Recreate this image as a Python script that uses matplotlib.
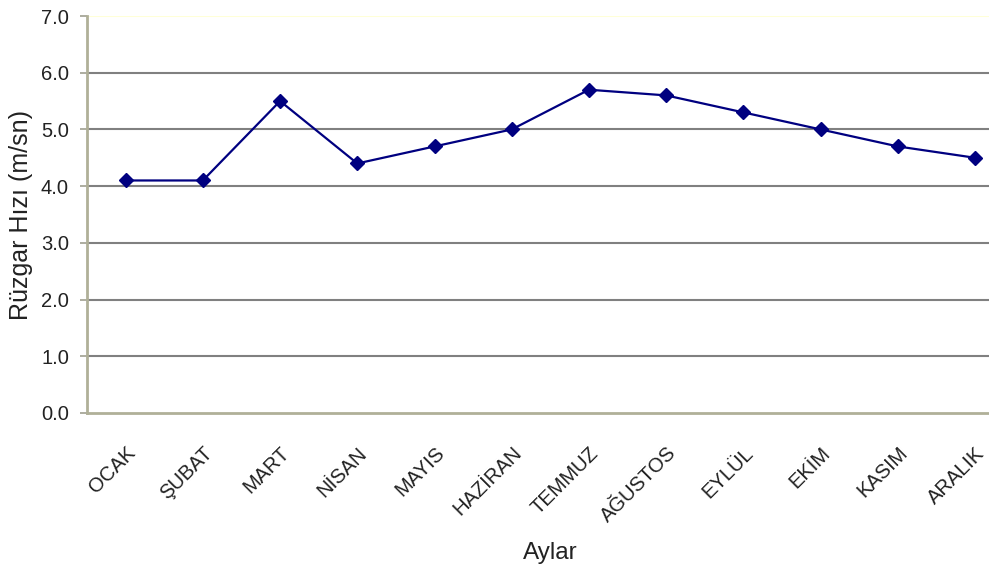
import matplotlib
matplotlib.use("Agg")
import matplotlib.pyplot as plt

months = ["OCAK", "ŞUBAT", "MART", "NİSAN", "MAYIS", "HAZİRAN", "TEMMUZ",
          "AĞUSTOS", "EYLÜL", "EKİM", "KASIM", "ARALIK"]
speeds = [4.1, 4.1, 5.5, 4.4, 4.7, 5.0, 5.7, 5.6, 5.3, 5.0, 4.7, 4.5]
yticks = [0.0, 1.0, 2.0, 3.0, 4.0, 5.0, 6.0, 7.0]

plt.rcParams['font.family'] = ['Liberation Sans', 'DejaVu Sans']

fig = plt.figure(figsize=(9.89, 5.74), dpi=100)
W, H = 989, 574
left, right, top, bottom = 87, 989, 16, 413
ax = fig.add_axes([left / W, 1 - bottom / H, (right - left) / W, (bottom - top) / H])

x = list(range(len(months)))
for v in yticks[1:-1]:
    ax.axhline(v, color='#808080', lw=1.5, zorder=1)
ax.axhline(7.0, color='#ffffd8', lw=1.5, zorder=1)

ax.plot(x, speeds, color='#000080', lw=1.6, marker='D', markersize=7,
        markerfacecolor='#000080', markeredgecolor='#000080', zorder=3)

ax.set_ylim(0, 7.0)
ax.set_xlim(-0.5, 11.18)
ax.set_yticks(yticks)
ax.set_yticklabels([f"{v:.1f}" for v in yticks], fontsize=14.5, color='#222222')
ax.set_xticks(x)
ax.set_xticklabels(months, rotation=45, ha='right', rotation_mode='anchor',
                   fontsize=14.5, color='#222222')
ax.tick_params(axis='x', length=0, pad=22)
ax.tick_params(axis='y', length=5, width=1.2, color='#a0a090', pad=8)

for s in ['top', 'right']:
    ax.spines[s].set_visible(False)
for s in ['left', 'bottom']:
    ax.spines[s].set_color('#b0b098')
    ax.spines[s].set_linewidth(2)

fig.text(21 / W, 1 - 215 / H, "Rüzgar Hızı (m/sn)", rotation=90, ha='center',
         va='center', fontsize=18, color='#222222')
fig.text(550 / W, 1 - 553 / H, "Aylar", ha='center', va='center',
         fontsize=17.5, color='#222222')

fig.savefig("out.png", dpi=100, facecolor='white')
